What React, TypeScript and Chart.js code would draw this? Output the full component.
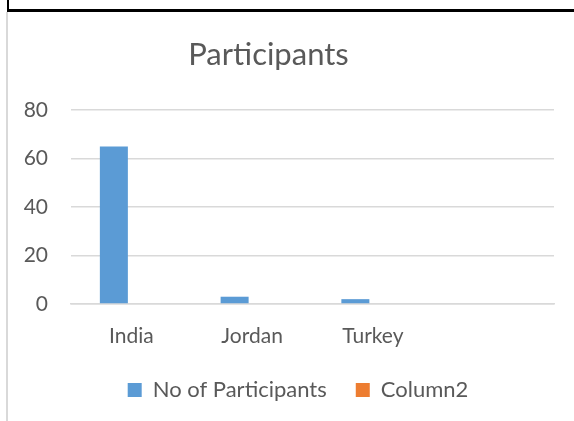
import React, { useEffect, useRef } from "react";
import { Chart, registerables } from "chart.js";

Chart.register(...registerables);

const titleText = "Participants";
const categories = ["India", "Jordan", "Turkey", ""];
const participants = [65, 3, 2, null];
const column2: (number | null)[] = [null, null, null, null];
const yTicks = [0, 20, 40, 60, 80];

const TEXT = "#595959";

const titlePlugin = {
  id: "customTitle",
  afterLayout(chart: any) {
    // shift the legend so that it is centred like the reference
    if (chart.legend) {
      chart.legend.left += 21;
      chart.legend.right += 21;
    }
  },
  afterDraw(chart: any) {
    const ctx = chart.ctx;
    ctx.save();
    ctx.font = "31px Lato";
    ctx.fillStyle = TEXT;
    ctx.textAlign = "center";
    ctx.textBaseline = "alphabetic";
    ctx.fillText(titleText, 268.5, 65);
    ctx.restore();
  },
};

export default function App() {
  const ref = useRef<HTMLCanvasElement | null>(null);

  useEffect(() => {
    if (!ref.current) return;
    Chart.defaults.font.family = "Lato";
    const chart = new Chart(ref.current, {
      type: "bar",
      data: {
        labels: categories,
        datasets: [
          {
            label: "No of Participants",
            data: participants,
            backgroundColor: "#5B9BD5",
            categoryPercentage: 0.58,
            barPercentage: 0.8,
          },
          {
            label: "Column2",
            data: column2,
            backgroundColor: "#ED7D31",
            categoryPercentage: 0.58,
            barPercentage: 0.8,
          },
        ],
      },
      options: {
        animation: false,
        responsive: true,
        maintainAspectRatio: false,
        devicePixelRatio: 1,
        layout: { padding: { top: 110, left: 0, right: 20, bottom: 10 } },
        plugins: {
          title: { display: false },
          tooltip: { enabled: false },
          legend: {
            position: "bottom",
            labels: {
              color: TEXT,
              font: { size: 22 },
              boxWidth: 14,
              boxHeight: 14,
              padding: 29,
            },
          },
        },
        scales: {
          x: {
            grid: { display: false, drawTicks: false },
            border: { display: true, color: "#D9D9D9", width: 1.5 },
            ticks: { color: TEXT, font: { size: 21 }, padding: 20 },
            afterFit: (s: any) => {
              s.height = 46;
            },
          },
          y: {
            min: 0,
            max: 80,
            afterBuildTicks: (s: any) => {
              s.ticks = yTicks.map((v) => ({ value: v }));
            },
            grid: { color: "#D9D9D9", lineWidth: 1.5, drawTicks: false },
            border: { display: false },
            ticks: { color: TEXT, font: { size: 21 }, padding: 23 },
            afterFit: (s: any) => {
              s.width = 71;
            },
          },
        },
      },
      plugins: [titlePlugin],
    });
    return () => chart.destroy();
  }, []);

  return (
    <div style={{ position: "fixed", left: 0, top: 0, width: 574, height: 421, background: "#fff" }}>
      <canvas ref={ref} />
      <div style={{ position: "absolute", left: 7, top: 9, width: 567, height: 3, background: "#000" }} />
      <div style={{ position: "absolute", left: 7, top: 0, width: 2, height: 12, background: "#000" }} />
      <div style={{ position: "absolute", left: 6, top: 12, width: 2, height: 409, background: "#D9D9D9" }} />
    </div>
  );
}
